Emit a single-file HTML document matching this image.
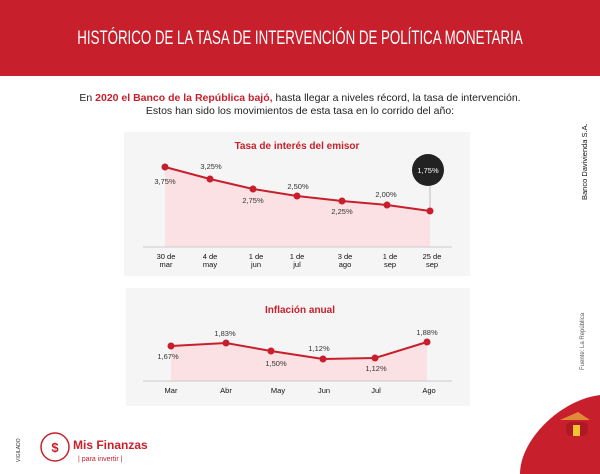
<html><head><style>
body{margin:0;width:600px;height:474px;background:#fff;position:relative;overflow:hidden;font-family:"Liberation Sans",sans-serif}
.hdr{position:absolute;left:0;top:0;width:600px;height:76px;background:#c81f2c}
.t{position:absolute;left:-100px;width:800px;text-align:center;top:28px;color:#fff;font-size:19px;white-space:nowrap;transform:scaleX(0.70);transform-origin:400px 0}
.sub{position:absolute;left:0;width:600px;text-align:center;top:92px;font-size:10.5px;line-height:13px;color:#222}
.sub b{color:#c81f2c}
</style></head><body>
<div class="hdr"></div><div class="t">HISTÓRICO DE LA TASA DE INTERVENCIÓN DE POLÍTICA MONETARIA</div>
<div class="sub">En <b>2020 el Banco de la República bajó,</b> hasta llegar a niveles récord, la tasa de intervención.<br>Estos han sido los movimientos de esta tasa en lo corrido del año:</div>
<svg width="600" height="474" style="position:absolute;left:0;top:0" font-family="Liberation Sans,sans-serif">
<rect x="124" y="132" width="346" height="144" fill="#f5f5f5"/>
<text x="297" y="149" text-anchor="middle" font-size="10" font-weight="bold" fill="#c81f2c">Tasa de interés del emisor</text>
<polygon points="165,167 210,179 253,189 297,196 342,201 387,205 430,211 430,247 165,247" fill="#fbe1e4"/>
<line x1="143" y1="247" x2="452" y2="247" stroke="#ccc"/>
<line x1="430" y1="180" x2="430" y2="211" stroke="#999" stroke-width="0.6"/>
<polyline points="165,167 210,179 253,189 297,196 342,201 387,205 430,211" fill="none" stroke="#c81f2c" stroke-width="2"/>
<g fill="#c81f2c"><circle cx="165" cy="167" r="3.5"/><circle cx="210" cy="179" r="3.5"/><circle cx="253" cy="189" r="3.5"/><circle cx="297" cy="196" r="3.5"/><circle cx="342" cy="201" r="3.5"/><circle cx="387" cy="205" r="3.5"/><circle cx="430" cy="211" r="3.5"/></g>
<circle cx="428" cy="170" r="16" fill="#222"/>
<g font-size="7.5" fill="#333" text-anchor="middle">
<text x="165" y="184">3,75%</text><text x="211" y="169">3,25%</text><text x="253" y="203">2,75%</text><text x="298" y="189">2,50%</text><text x="342" y="214">2,25%</text><text x="386" y="197">2,00%</text>
<text x="428" y="173" fill="#fff">1,75%</text>
<g font-size="7.5" fill="#111"><text x="166" y="259">30 de</text><text x="166" y="267">mar</text><text x="210" y="259">4 de</text><text x="210" y="267">may</text><text x="256" y="259">1 de</text><text x="256" y="267">jun</text><text x="297" y="259">1 de</text><text x="297" y="267">jul</text><text x="345" y="259">3 de</text><text x="345" y="267">ago</text><text x="390" y="259">1 de</text><text x="390" y="267">sep</text><text x="432" y="259">25 de</text><text x="432" y="267">sep</text></g>
</g>
<rect x="126" y="288" width="344" height="118" fill="#f5f5f5"/>
<text x="300" y="313" text-anchor="middle" font-size="10" font-weight="bold" fill="#c81f2c">Inflación anual</text>
<polygon points="171,346 226,343 271,351 323,359 375,358 427,342 427,381 171,381" fill="#fbe1e4"/>
<line x1="143" y1="381" x2="452" y2="381" stroke="#ccc"/>
<polyline points="171,346 226,343 271,351 323,359 375,358 427,342" fill="none" stroke="#c81f2c" stroke-width="2"/>
<g fill="#c81f2c"><circle cx="171" cy="346" r="3.5"/><circle cx="226" cy="343" r="3.5"/><circle cx="271" cy="351" r="3.5"/><circle cx="323" cy="359" r="3.5"/><circle cx="375" cy="358" r="3.5"/><circle cx="427" cy="342" r="3.5"/></g>
<g font-size="7.5" fill="#333" text-anchor="middle">
<text x="168" y="359">1,67%</text><text x="225" y="336">1,83%</text><text x="276" y="366">1,50%</text><text x="319" y="351">1,12%</text><text x="376" y="371">1,12%</text><text x="427" y="335">1,88%</text>
<g fill="#111"><text x="171" y="393">Mar</text><text x="226" y="393">Abr</text><text x="278" y="393">May</text><text x="324" y="393">Jun</text><text x="376" y="393">Jul</text><text x="429" y="393">Ago</text></g>
</g>
<text transform="translate(587,200) rotate(-90)" font-size="7.5" fill="#111">Banco Davivienda S.A.</text>
<text transform="translate(584,370) rotate(-90)" font-size="6" fill="#555">Fuente: La República</text>
<text transform="translate(20,462) rotate(-90)" font-size="5" fill="#333">VIGILADO</text>
<path d="M520,474 C520,440 560,400 600,395 L600,474Z" fill="#c81f2c"/>
<path d="M560,420 L578,412 L590,420Z" fill="#e08a3a"/><rect x="566" y="422" width="22" height="14" rx="5" fill="#b01826"/><rect x="573" y="425" width="7" height="11" fill="#f2c230"/>
<circle cx="55" cy="447" r="14" fill="none" stroke="#c81f2c" stroke-width="1.5"/>
<text x="55" y="452" text-anchor="middle" font-size="13" font-weight="bold" fill="#c81f2c">$</text>
<text x="73" y="449" font-size="12" font-weight="bold" fill="#c81f2c">Mis Finanzas</text>
<text x="78" y="461" font-size="7" fill="#c81f2c">|  para invertir  |</text>
</svg>
</body></html>
